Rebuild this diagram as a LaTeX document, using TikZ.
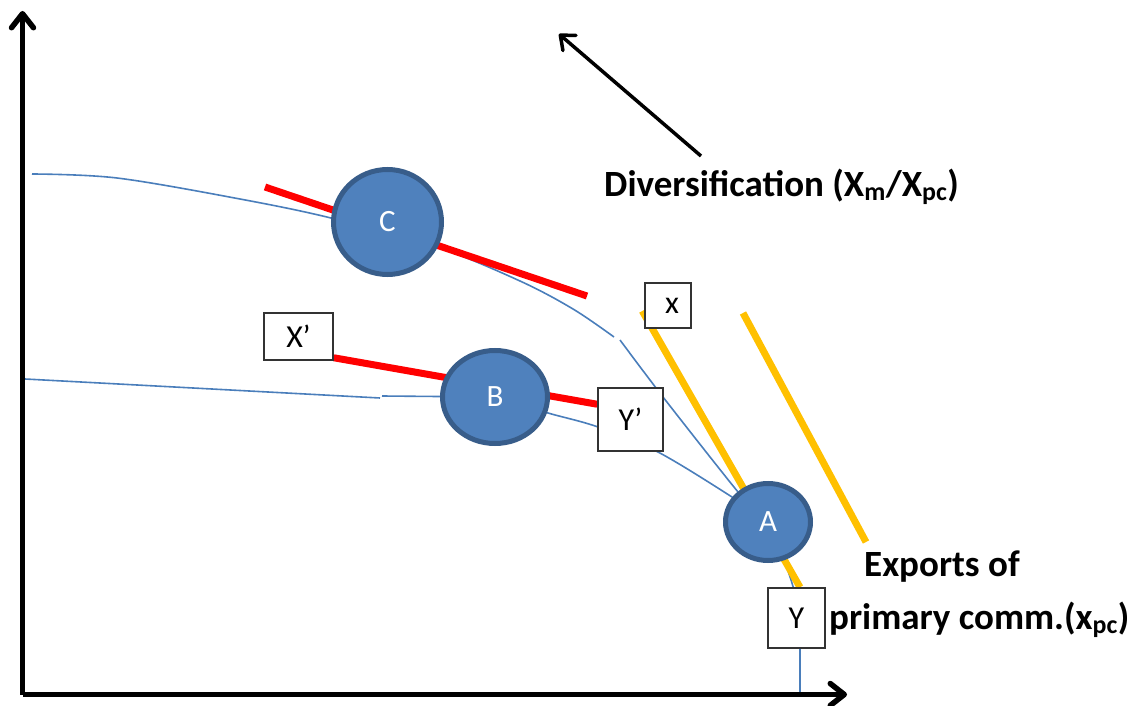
\documentclass[tikz,border=0pt]{standalone}
\usepackage{fontspec}
\setmainfont{Carlito}
\usetikzlibrary{arrows.meta,shapes.geometric}
\definecolor{ppblue}{HTML}{4F81BD}
\definecolor{ppborder}{HTML}{385D8A}
\definecolor{ppline}{HTML}{4A7EBB}
\definecolor{ppgold}{HTML}{FFC000}
\pgfdeclarelayer{background}
\pgfsetlayers{background,main}
\begin{document}
\begin{tikzpicture}[x=1pt,y=-1pt,
  axis/.style={line width=5.5pt, -{Straight Barb[length=14pt,width=22pt,round]}},
  divarrow/.style={line width=3.5pt, -{Straight Barb[length=12pt,width=20pt,round]}},
  curve/.style={ppline, line width=1.6pt},
  redline/.style={red, line width=7pt},
  goldline/.style={ppgold, line width=7pt},
  pt/.style={ellipse, draw=ppborder, fill=ppblue, line width=5pt, inner sep=0pt,
    text=white, font=\fontsize{31}{33}\selectfont},
  lbox/.style={draw=black!80, fill=white, line width=1.5pt, inner sep=0pt,
    font=\fontsize{32}{34}\selectfont},
  bigtext/.style={font=\fontsize{37}{40}\selectfont\bfseries, inner sep=0pt, anchor=west}
]
\useasboundingbox (0,0) rectangle (1136,706);

% axes
\coordinate (O) at (22.5,694.5);
\coordinate (ytop) at (22.5,11);
\coordinate (xend) at (847,694.5);
\draw[axis] (O) -- (ytop);
\draw[axis] (O) -- (xend);

% points
\node[pt, minimum width=108pt, minimum height=105pt] (C) at (387.5,222) {C};
\node[pt, minimum width=105pt, minimum height=93pt] (B) at (495,397) {B};
\node[pt, minimum width=85pt, minimum height=77pt] (A) at (768,522) {A};

% boxes
\node[lbox, minimum width=69pt, minimum height=47pt] (xp) at (298.5,336.5) {\raisebox{-3pt}{X’}};
\node[lbox, minimum width=65pt, minimum height=63pt] (yp) at (630.5,419.5) {Y’};
\node[lbox, minimum width=46pt, minimum height=45pt] (xb) at (668,305.5) {\raisebox{-3pt}{\hspace{8pt}x}};
\node[lbox, minimum width=57pt, minimum height=60pt] (yb) at (796.5,618) {Y};

% texts
\node[bigtext] (div) at (604,187) {Diversification (X\textsubscript{m}/X\textsubscript{pc})};
\node[bigtext] (exp1) at (864,567) {Exports of};
\node[bigtext] (exp2) at (829,620) {primary comm.(x\textsubscript{pc})};

% diversification arrow
\coordinate (d1) at (701,156);
\coordinate (d2) at (559,34);
\draw[divarrow] (d1) -- (d2);

\begin{pgfonlayer}{background}
  % upper frontier
  \draw[curve] plot[smooth, tension=0.55] coordinates {(32,174) (117,178) (240,199) (331,218) (437,247) (520,281) (573,309) (614,337)};
  \draw[curve] plot[smooth, tension=0.5] coordinates {(620,340) (663,397) (738,492) (768,525) (785,563) (794,590) (799,615) (800,648)} -- (800,693);
  % lower frontier
  \draw[curve] (25,379) -- (380,398);
  \draw[curve] (382,396) -- (B);
  \draw[curve] plot[smooth, tension=0.55] coordinates {(B) (548,413) (598,427) (658,452) (732,497) (A)};
  % tangents
  \coordinate (c1) at (265,187);
  \coordinate (c2) at (587,296);
  \draw[redline] (c1) -- (c2);
  \draw[redline] ([yshift=3pt]xp.south east) -- ([yshift=-17pt]yp.north west);
  \draw[goldline] ([xshift=-2pt,yshift=-5.5pt]xb.west) -- ([xshift=3.5pt]yb.north);
  \coordinate (g1) at (743,313);
  \coordinate (g2) at (866,542);
  \draw[goldline] (g1) -- (g2);
\end{pgfonlayer}
\end{tikzpicture}
\end{document}
